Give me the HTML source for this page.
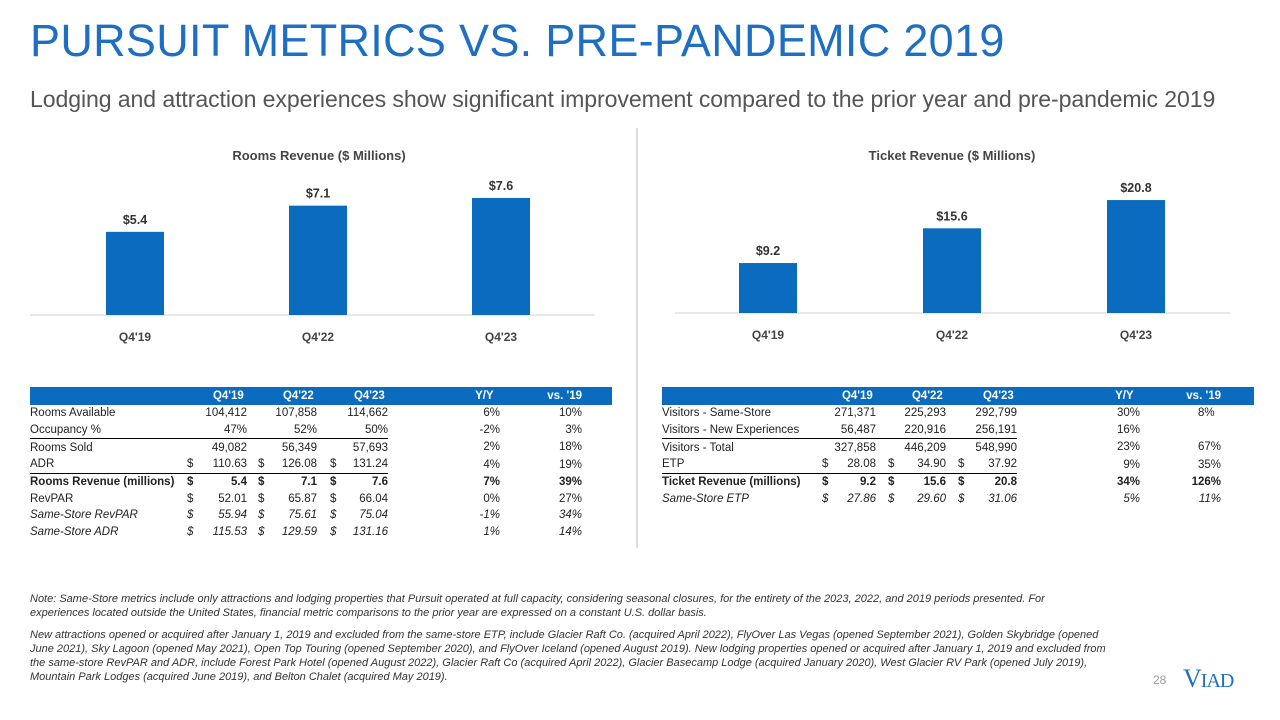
<!DOCTYPE html>
<html><head><meta charset="utf-8">
<style>
body{margin:0;width:1280px;height:720px;background:#fff;font-family:"Liberation Sans",sans-serif;position:relative;overflow:hidden;color:#222}
.abs{position:absolute}
h1{position:absolute;left:30px;top:15px;margin:0;font-weight:normal;font-size:45px;color:#1e6fc1;letter-spacing:0.3px;white-space:nowrap}
.sub{left:30px;top:86px;font-size:23.1px;color:#555;white-space:nowrap;letter-spacing:-0.1px}
table{position:absolute;border-collapse:collapse;font-size:11.5px;table-layout:fixed}
td{height:16.7px;padding:0;white-space:nowrap;position:relative}
thead td{background:#0a6bbf;color:#fff;font-weight:bold;height:18px}
.r{text-align:right}
.s{position:absolute;top:0;bottom:0;display:flex;align-items:center}
.b td{font-weight:bold}.i td{font-style:italic}
.bl td.u{border-bottom:1.5px solid #000}
.note{left:30px;font-size:11px;font-style:italic;color:#333;line-height:14px;width:1082px}
</style></head><body>
<h1>PURSUIT METRICS VS. PRE-PANDEMIC 2019</h1>
<div class="abs sub">Lodging and attraction experiences show significant improvement compared to the prior year and pre-pandemic 2019</div>
<div class="abs" style="left:636px;top:128px;width:2px;height:420px;background:#ddd"></div>

<svg class="abs" style="left:0;top:0" width="1280" height="360" id="charts"></svg>

<table style="left:30px;top:387px;width:582px">
<colgroup><col style="width:157px"><col style="width:60px"><col style="width:70px"><col style="width:71px"><col style="width:112px"><col style="width:82px"><col style="width:30px"></colgroup>
<thead><tr><td></td><td class="r">Q4'19&nbsp;</td><td class="r">Q4'22&nbsp;</td><td class="r">Q4'23&nbsp;</td><td class="r">Y/Y&nbsp;&nbsp;</td><td class="r">vs. '19</td><td></td></tr></thead>
<tr><td>Rooms Available</td><td class="r">104,412</td><td class="r">107,858</td><td class="r">114,662</td><td class="r">6%</td><td class="r">10%</td><td></td></tr>
<tr class="bl"><td class="u">Occupancy %</td><td class="r u">47%</td><td class="r u">52%</td><td class="r u">50%</td><td class="r">-2%</td><td class="r">3%</td><td></td></tr>
<tr><td>Rooms Sold</td><td class="r">49,082</td><td class="r">56,349</td><td class="r">57,693</td><td class="r">2%</td><td class="r">18%</td><td></td></tr>
<tr class="bl"><td class="u">ADR</td><td class="r u"><span class="s" style="left:0">$</span>110.63</td><td class="r u"><span class="s" style="left:11px">$</span>126.08</td><td class="r u"><span class="s" style="left:13px">$</span>131.24</td><td class="r">4%</td><td class="r">19%</td><td></td></tr>
<tr class="b"><td>Rooms Revenue (millions)</td><td class="r"><span class="s" style="left:0">$</span>5.4</td><td class="r"><span class="s" style="left:11px">$</span>7.1</td><td class="r"><span class="s" style="left:13px">$</span>7.6</td><td class="r">7%</td><td class="r">39%</td><td></td></tr>
<tr><td>RevPAR</td><td class="r"><span class="s" style="left:0">$</span>52.01</td><td class="r"><span class="s" style="left:11px">$</span>65.87</td><td class="r"><span class="s" style="left:13px">$</span>66.04</td><td class="r">0%</td><td class="r">27%</td><td></td></tr>
<tr class="i"><td>Same-Store RevPAR</td><td class="r"><span class="s" style="left:0">$</span>55.94</td><td class="r"><span class="s" style="left:11px">$</span>75.61</td><td class="r"><span class="s" style="left:13px">$</span>75.04</td><td class="r">-1%</td><td class="r">34%</td><td></td></tr>
<tr class="i"><td>Same-Store ADR</td><td class="r"><span class="s" style="left:0">$</span>115.53</td><td class="r"><span class="s" style="left:11px">$</span>129.59</td><td class="r"><span class="s" style="left:13px">$</span>131.16</td><td class="r">1%</td><td class="r">14%</td><td></td></tr>
</table>

<table style="left:662px;top:387px;width:592px">
<colgroup><col style="width:158px"><col style="width:56px"><col style="width:70px"><col style="width:71px"><col style="width:123px"><col style="width:81px"><col style="width:33px"></colgroup>
<thead><tr><td></td><td class="r">Q4'19&nbsp;</td><td class="r">Q4'22&nbsp;</td><td class="r">Q4'23&nbsp;</td><td class="r">Y/Y&nbsp;&nbsp;</td><td class="r">vs. '19</td><td></td></tr></thead>
<tr><td>Visitors - Same-Store</td><td class="r">271,371</td><td class="r">225,293</td><td class="r">292,799</td><td class="r">30%</td><td class="r">8%&nbsp;&nbsp;</td><td></td></tr>
<tr class="bl"><td class="u">Visitors - New Experiences</td><td class="r u">56,487</td><td class="r u">220,916</td><td class="r u">256,191</td><td class="r">16%</td><td></td><td></td></tr>
<tr><td>Visitors - Total</td><td class="r">327,858</td><td class="r">446,209</td><td class="r">548,990</td><td class="r">23%</td><td class="r">67%</td><td></td></tr>
<tr class="bl"><td class="u">ETP</td><td class="r u"><span class="s" style="left:2px">$</span>28.08</td><td class="r u"><span class="s" style="left:12px">$</span>34.90</td><td class="r u"><span class="s" style="left:12px">$</span>37.92</td><td class="r">9%</td><td class="r">35%</td><td></td></tr>
<tr class="b"><td>Ticket Revenue (millions)</td><td class="r"><span class="s" style="left:2px">$</span>9.2</td><td class="r"><span class="s" style="left:12px">$</span>15.6</td><td class="r"><span class="s" style="left:12px">$</span>20.8</td><td class="r">34%</td><td class="r">126%</td><td></td></tr>
<tr class="i"><td>Same-Store ETP</td><td class="r"><span class="s" style="left:2px">$</span>27.86</td><td class="r"><span class="s" style="left:12px">$</span>29.60</td><td class="r"><span class="s" style="left:12px">$</span>31.06</td><td class="r">5%</td><td class="r">11%</td><td></td></tr>
</table>

<div class="abs note" style="top:592px;width:1070px">Note: Same-Store metrics include only attractions and lodging properties that Pursuit operated at full capacity, considering seasonal closures, for the entirety of the 2023, 2022, and 2019 periods presented. For experiences located outside the United States, financial metric comparisons to the prior year are expressed on a constant U.S. dollar basis.</div>
<div class="abs note" style="top:628px">New attractions opened or acquired after January 1, 2019 and excluded from the same-store ETP, include Glacier Raft Co. (acquired April 2022), FlyOver Las Vegas (opened September 2021), Golden Skybridge (opened June 2021), Sky Lagoon (opened May 2021), Open Top Touring (opened September 2020), and FlyOver Iceland (opened August 2019). New lodging properties opened or acquired after January 1, 2019 and excluded from the same-store RevPAR and ADR, include Forest Park Hotel (opened August 2022), Glacier Raft Co (acquired April 2022), Glacier Basecamp Lodge (acquired January 2020), West Glacier RV Park (opened July 2019), Mountain Park Lodges (acquired June 2019), and Belton Chalet (acquired May 2019).</div>
<div class="abs" style="left:1153px;top:673px;font-size:12px;color:#999">28</div>
<div class="abs" style="left:1183px;top:664px;font-family:'Liberation Serif',serif;font-size:26px;color:#1e6fc1;letter-spacing:-1px">V<span style="font-size:20px">IAD</span></div>

<script>
const categories=["Q4'19","Q4'22","Q4'23"];
const roomsRevenue=[5.4,7.1,7.6];
const ticketRevenue=[9.2,15.6,20.8];
const roomsLabels=["$5.4","$7.1","$7.6"];
const ticketLabels=["$9.2","$15.6","$20.8"];
const svg=document.getElementById('charts');
const NS='http://www.w3.org/2000/svg';
function mk(t,a,txt){const e=document.createElementNS(NS,t);for(const k in a)e.setAttribute(k,a[k]);if(txt!==undefined)e.textContent=txt;svg.appendChild(e);return e;}
function chart(cfg,vals,labels,name){
  const x=i=>cfg.x0+i*cfg.step;
  const y=v=>cfg.base-v*cfg.scale;
  let t=mk('text',{x:cfg.tx,y:160,'text-anchor':'middle','font-size':13,'font-weight':'bold',fill:'#444'},cfg.title);
  
  
  let ax=mk('line',{x1:cfg.a0,x2:cfg.a1,y1:cfg.base,y2:cfg.base,stroke:'#d0d0d0','stroke-width':1});
  
  
  vals.forEach((v,i)=>{
    let r=mk('rect',{x:x(i)-29,y:y(v),width:58,height:cfg.base-y(v),fill:'#0a6bbf'});
    
    
    let l=mk('text',{x:x(i),y:y(v)-8,'text-anchor':'middle','font-size':12.5,'font-weight':'bold',fill:'#333'},labels[i]);
    
    
    let c=mk('text',{x:x(i),y:cfg.base+26,'text-anchor':'middle','font-size':12,'font-weight':'bold',fill:'#444'},categories[i]);
    
    
  });
}
chart({x0:135,step:183,base:315,scale:15.4,a0:30,a1:595,tx:319,title:'Rooms Revenue ($ Millions)'},roomsRevenue,roomsLabels,'rooms-chart');
chart({x0:768,step:184,base:313,scale:5.43,a0:675,a1:1230,tx:952,title:'Ticket Revenue ($ Millions)'},ticketRevenue,ticketLabels,'ticket-chart');
</script>
</body></html>
